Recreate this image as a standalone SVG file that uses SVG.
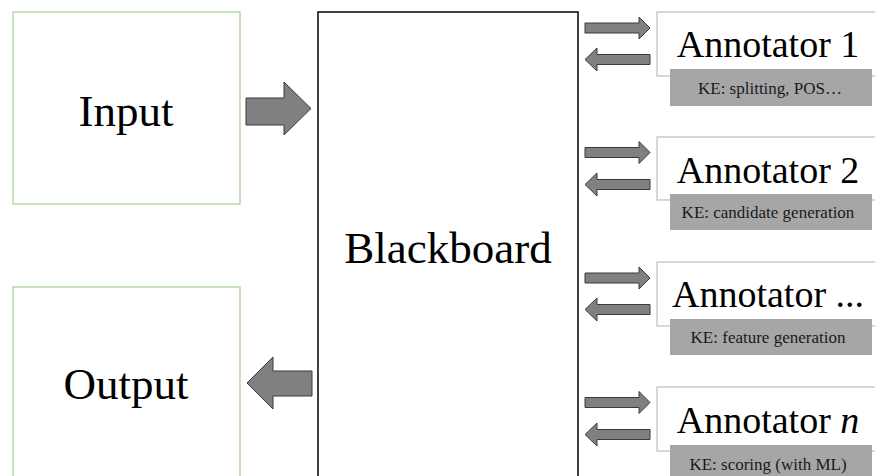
<svg xmlns="http://www.w3.org/2000/svg" width="875" height="476" viewBox="0 0 875 476">
  <defs>
    <style>
      .io { fill: #ffffff; stroke: #a9d18e; stroke-width: 1.2; }
      .bb { fill: #ffffff; stroke: #000000; stroke-width: 1.5; }
      .an { fill: #ffffff; stroke: #bfbfbf; stroke-width: 1.2; }
      .lb { fill: #a6a6a6; stroke: none; }
      .big { font-family: "Liberation Serif", "Times New Roman", serif; font-size: 45px; fill: #000; text-anchor: middle; }
      .ann { font-family: "Liberation Serif", "Times New Roman", serif; font-size: 38px; fill: #000; text-anchor: middle; }
      .ke { font-family: "Liberation Serif", "Times New Roman", serif; font-size: 17px; fill: #1a1a1a; text-anchor: middle; }
      .arr { fill: #808080; stroke: #3a3a3a; stroke-width: 1; stroke-linejoin: miter; }
    </style>
    <path id="ra" d="M0,-5 H54 V-11 L65,0 L54,11 V5 H0 Z"/>
    <path id="la" d="M0,0 L12,-11.5 V-5 H65 V5 H12 V11.5 Z"/>
  </defs>

  <g id="input">
    <rect class="io" x="13" y="12" width="227" height="192"/>
    <text class="big" x="126" y="126">Input</text>
  </g>

  <g id="output">
    <rect class="io" x="13" y="287" width="227" height="200"/>
    <text class="big" x="126" y="399">Output</text>
  </g>

  <g id="blackboard">
    <rect class="bb" x="318" y="12" width="260" height="480"/>
    <text class="big" x="448" y="263">Blackboard</text>
  </g>

  <g id="annotator1">
    <rect class="an" x="657" y="12" width="230" height="64"/>
    <text class="ann" x="768" y="57">Annotator 1</text>
    <rect class="lb" x="670" y="69" width="202" height="37"/>
    <text class="ke" x="770" y="94">KE: splitting, POS…</text>
  </g>

  <g id="annotator2">
    <rect class="an" x="657" y="137" width="230" height="63"/>
    <text class="ann" x="768" y="183">Annotator 2</text>
    <rect class="lb" x="670" y="194" width="202" height="36"/>
    <text class="ke" x="768" y="218">KE: candidate generation</text>
  </g>

  <g id="annotator3">
    <rect class="an" x="657" y="262" width="230" height="64"/>
    <text class="ann" x="768" y="307">Annotator ...</text>
    <rect class="lb" x="670" y="319" width="202" height="36"/>
    <text class="ke" x="768" y="343">KE: feature generation</text>
  </g>

  <g id="annotatorn">
    <rect class="an" x="657" y="387" width="230" height="64"/>
    <text class="ann" x="768" y="433">Annotator <tspan font-style="italic">n</tspan></text>
    <rect class="lb" x="670" y="445" width="202" height="40"/>
    <text class="ke" x="768" y="470">KE: scoring (with ML)</text>
  </g>

  <g id="connectors">
    <polygon class="arr" points="246,98 284,98 284,82 311,108.5 284,135 284,125 246,125"/>
    <polygon class="arr" points="247,383 273,357 273,371 312,371 312,396 273,396 273,409"/>
    <use href="#ra" class="arr" x="585" y="28"/>
    <use href="#la" class="arr" x="585" y="59.5"/>
    <use href="#ra" class="arr" x="585" y="152.5"/>
    <use href="#la" class="arr" x="585" y="184.5"/>
    <use href="#ra" class="arr" x="585" y="278"/>
    <use href="#la" class="arr" x="585" y="309.5"/>
    <use href="#ra" class="arr" x="585" y="402.5"/>
    <use href="#la" class="arr" x="585" y="434.5"/>
  </g>
</svg>
